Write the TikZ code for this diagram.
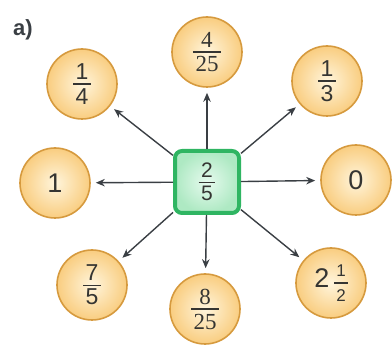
\documentclass[tikz,border=0pt]{standalone}
\usepackage{fontspec}
\setmainfont{Liberation Sans}
\newfontfamily\serifnum{Liberation Serif}
\usetikzlibrary{arrows.meta}
\definecolor{ink}{HTML}{3A3F44}
\definecolor{ringc}{HTML}{D69A3E}
\definecolor{fillin}{HTML}{FFF5DC}
\definecolor{fillout}{HTML}{F9CD80}
\definecolor{boxedge}{HTML}{2FB562}
\definecolor{boxin}{HTML}{E6FAEE}
\definecolor{boxout}{HTML}{AEE9C3}
\definecolor{numc}{HTML}{353532}
\newcommand\fr[3][1.5pt]{$\vcenter{\halign{\hfil\kern2.5pt##\kern2.5pt\hfil\cr #2\cr\noalign{\kern4pt\hrule height#1\kern4pt}#3\cr}}$}
\newcommand\frsmall[2]{$\vcenter{\halign{\hfil\kern2pt##\kern2pt\hfil\cr #1\cr\noalign{\kern6pt\hrule height1.2pt\kern6pt}#2\cr}}$}
\tikzset{
  disc/.style={circle, minimum size=70pt, inner sep=0pt, draw=ringc, line width=1.6pt,
    inner color=fillin, outer color=fillout, text=numc, font=\fontsize{23}{23}\selectfont},
  bigdigit/.style={font=\fontsize{27}{27}\selectfont},
  centerbox/.style={rectangle, minimum width=64pt, minimum height=62pt, rounded corners=7pt,
    draw=boxedge, line width=4pt, inner color=boxin, outer color=boxout, text=numc,
    font=\fontsize{21}{21}\selectfont},
  arr/.style={draw=ink, line width=1.4pt, -{Stealth[length=9pt,width=7.5pt]}, shorten >=5pt},
  label/.style={font=\fontsize{22}{22}\selectfont\bfseries, text=ink, anchor=west, inner sep=0pt}
}
\begin{document}
\begin{tikzpicture}[x=1pt,y=-1pt]
\useasboundingbox (0,0) rectangle (392,345);
\node[label] (lab) at (13,30) {a)};
\node[centerbox] (c) at (207,182) {\fr[0.6pt]{2}{5}};
\node[disc] (n1) at (207,52) {\serifnum\fr{4}{25}};
\node[disc] (n2) at (327,81) {\fr{1}{3}};
\node[disc,bigdigit] (n3) at (356,180) {0};
\node[disc] (n4) at (331,283) {{\fontsize{27}{27}\selectfont 2}\hspace{5pt}{\fontsize{17}{17}\selectfont\frsmall{1}{2}}};
\node[disc] (n5) at (205,309) {\serifnum\fr{8}{25}};
\node[disc] (n6) at (92,285) {\fr[0.5pt]{7}{5}};
\node[disc,bigdigit] (n7) at (55,183) {1};
\node[disc] (n8) at (82,84) {\fr{1}{4}};
\foreach \n in {n1,n2,n3,n4,n5,n6,n7,n8}
  \draw[arr] (c) -- (\n);
\end{tikzpicture}
\end{document}
